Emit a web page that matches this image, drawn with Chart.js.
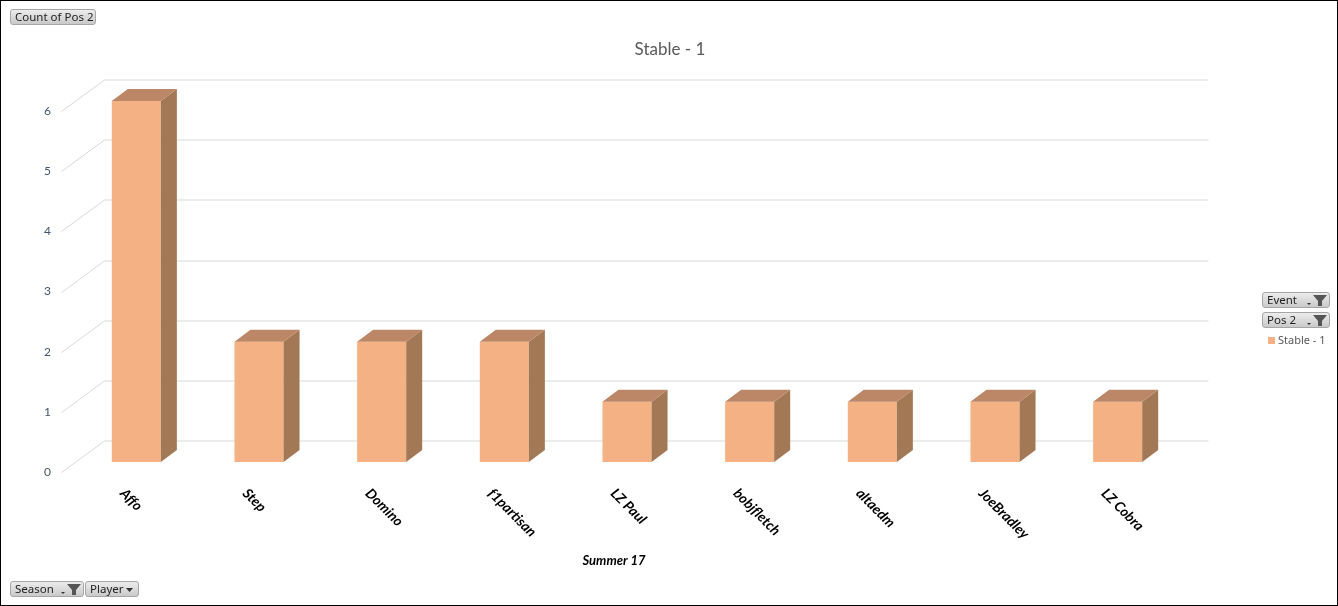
<!DOCTYPE html>
<html>
<head>
<meta charset="utf-8">
<script src="https://cdn.jsdelivr.net/npm/chart.js@4.4.1/dist/chart.umd.min.js"></script>
<style>
  html, body { margin: 0; padding: 0; background: #fff; }
  #wrap { position: relative; width: 1338px; height: 606px; box-sizing: border-box; border: 1px solid #000; overflow: hidden; }
  #c { position: absolute; left: -1px; top: -1px; }
  #title { position: absolute; left: 0; width: 1338px; top: 37px; text-align: center; font: 17px Lato, sans-serif; color: #595959; }
  .btn { position: absolute; height: 16px; box-sizing: border-box; border: 1px solid #a6a6a6; border-radius: 3px;
         background: linear-gradient(#ececec, #c9c9c9); font: 11.5px "Noto Sans", sans-serif; color: #222;
         line-height: 14px; padding-left: 4px; white-space: nowrap; }
  .btn svg { position: absolute; top: 1px; }
  #legend { position: absolute; left: 1267px; top: 331px; font: 11px "Noto Sans", sans-serif; color: #595959; }
  #legend span.sw { display: inline-block; width: 7px; height: 7px; background: #f4b183; margin-right: 3px; }
</style>
</head>
<body>
<div id="wrap">
  <canvas id="c" width="1338" height="606"></canvas>
  <div id="title"></div>
  <div class="btn" style="left:9px;top:8px;width:86px;">Count of Pos 2</div>
  <div class="btn" style="left:1261px;top:291px;width:68px;">Event
    <svg style="left:42px" width="24" height="13" viewBox="0 0 24 13"><path d="M2 9h4l-2 2z" fill="#333"/><path d="M8 1h14l-5 6v5h-4v-5z" fill="#555"/></svg></div>
  <div class="btn" style="left:1261px;top:311px;width:68px;">Pos 2
    <svg style="left:42px" width="24" height="13" viewBox="0 0 24 13"><path d="M2 9h4l-2 2z" fill="#333"/><path d="M8 1h14l-5 6v5h-4v-5z" fill="#555"/></svg></div>
  <div id="legend"><span class="sw"></span><span id="legtext"></span></div>
  <div class="btn" style="left:9px;top:580px;width:74px;">Season
    <svg style="left:48px" width="24" height="13" viewBox="0 0 24 13"><path d="M2 9h4l-2 2z" fill="#333"/><path d="M8 1h14l-5 6v5h-4v-5z" fill="#555"/></svg></div>
  <div class="btn" style="left:84px;top:580px;width:54px;">Player
    <svg style="left:38px" width="12" height="13" viewBox="0 0 12 13"><path d="M2 5h7l-3.5 4z" fill="#333"/></svg></div>
</div>
<script>
// pivot data: Count of Pos 2, Season = Summer 17, Pos 2 = Stable - 1
const players = ['Affo', 'Step', 'Domino', 'f1partisan', 'LZ Paul', 'bobjfletch', 'altaedm', 'JoeBradley', 'LZ Cobra'];
const counts = [6, 2, 2, 2, 1, 1, 1, 1, 1];
const yTicks = [0, 1, 2, 3, 4, 5, 6];
const seriesName = 'Stable - 1';
const seasonName = 'Summer 17';

document.getElementById('title').innerText = seriesName;
document.getElementById('legtext').innerText = seriesName;

// 3d look: bar depth and floor/back wall offsets (px)
const BAR_DX = 16, BAR_DY = -12;
const FRONT = { dx: -13.5, dy: 10 };
const BACK = { dx: 29.5, dy: -21.5 };

const threeD = {
    id: 'threeD',
    beforeDatasetsDraw(chart) {
        const ctx = chart.ctx, y = chart.scales.y, a = chart.chartArea;
        ctx.save();
        ctx.strokeStyle = '#d9d9d9';
        ctx.lineWidth = 1;
        yTicks.forEach(v => {
            const py = Math.round(y.getPixelForValue(v)) + 0.5;
            ctx.beginPath();
            ctx.moveTo(a.left + FRONT.dx, py + FRONT.dy);
            ctx.lineTo(a.left + BACK.dx, py + BACK.dy);
            ctx.lineTo(a.right + BACK.dx, py + BACK.dy);
            ctx.stroke();
        });
        ctx.restore();
    },
    afterDatasetsDraw(chart) {
        const ctx = chart.ctx;
        const meta = chart.getDatasetMeta(0);
        ctx.save();
        meta.data.forEach(bar => {
            const l = bar.x - bar.width / 2, r = bar.x + bar.width / 2;
            const t = bar.y, b = bar.base;
            // side face
            ctx.fillStyle = '#a37855';
            ctx.beginPath();
            ctx.moveTo(r, t); ctx.lineTo(r + BAR_DX, t + BAR_DY);
            ctx.lineTo(r + BAR_DX, b + BAR_DY); ctx.lineTo(r, b);
            ctx.closePath(); ctx.fill();
            // top face
            ctx.fillStyle = '#bc8766';
            ctx.beginPath();
            ctx.moveTo(l, t); ctx.lineTo(r, t);
            ctx.lineTo(r + BAR_DX, t + BAR_DY); ctx.lineTo(l + BAR_DX, t + BAR_DY);
            ctx.closePath(); ctx.fill();
        });
        // slanted category labels
        const x = chart.scales.x;
        ctx.fillStyle = '#000';
        ctx.font = 'italic bold 14px Lato, sans-serif';
        ctx.textAlign = 'left';
        ctx.textBaseline = 'middle';
        players.forEach((p, i) => {
            const px = x.getPixelForValue(i);
            ctx.save();
            ctx.translate(px - 14, chart.chartArea.bottom + 29);
            ctx.rotate(Math.PI / 4);
            ctx.fillText(p, 0, 0);
            ctx.restore();
        });
        // axis title sits a bit left of the plot centre
        ctx.font = 'italic bold 13px Lato, sans-serif';
        ctx.textAlign = 'center';
        ctx.fillText(seasonName, 614, 561);
        ctx.restore();
    }
};

new Chart(document.getElementById('c'), {
    type: 'bar',
    data: {
        labels: players,
        datasets: [{ label: seriesName, data: counts, backgroundColor: '#f4b183',
                     barPercentage: 0.4, categoryPercentage: 1 }]
    },
    options: {
        responsive: false,
        animation: false,
        layout: { padding: { left: 0, right: 159, top: 101, bottom: 0 } },
        plugins: {
            legend: { display: false },
            tooltip: { enabled: false },
            title: { display: false }
        },
        scales: {
            x: {
                grid: { display: false, drawTicks: false },
                border: { display: false },
                ticks: { display: false },
                afterFit: s => { s.height = 144; }
            },
            y: {
                min: 0, max: 6,
                grid: { display: false, drawTicks: false },
                border: { display: false },
                ticks: { stepSize: 1, padding: 24, labelOffset: 10, color: '#44546a',
                         font: { family: 'Lato', size: 12 } },
                afterFit: s => { s.width = 75; }
            }
        }
    },
    plugins: [threeD]
});
</script>
</body>
</html>
